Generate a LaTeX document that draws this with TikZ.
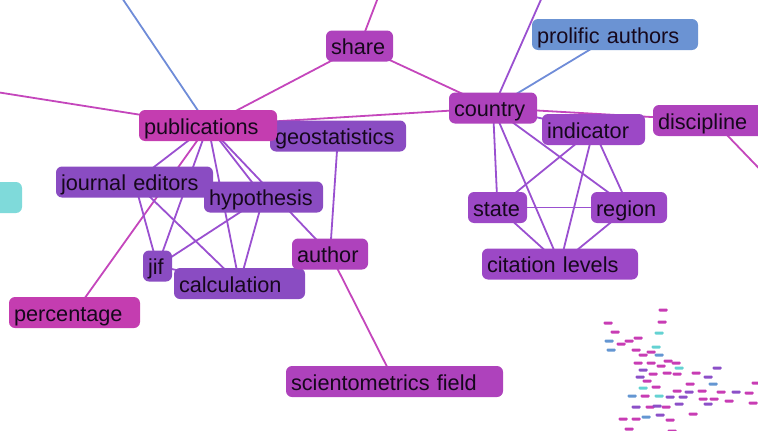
\documentclass[tikz,border=0pt]{standalone}
\usepackage{fontspec}
\setmainfont{Liberation Sans}
\usepackage{xcolor}
\usepackage{tikz}
\usetikzlibrary{positioning,backgrounds}

\definecolor{magA}{HTML}{C43DB0}
\definecolor{magB}{HTML}{AE42BC}
\definecolor{purA}{HTML}{9C48C6}
\definecolor{purB}{HTML}{8A4CC2}
\definecolor{blueN}{HTML}{6B93D3}
\definecolor{cyanN}{HTML}{7FDADA}
\definecolor{ink}{HTML}{16081C}
\definecolor{lineM}{HTML}{C446BC}
\definecolor{lineP}{HTML}{9A50D0}
\definecolor{lineB}{HTML}{6F8CD8}
\definecolor{mapM}{HTML}{C83CB4}
\definecolor{mapP}{HTML}{8C50C8}
\definecolor{mapB}{HTML}{6496D2}
\definecolor{mapC}{HTML}{64D2D2}

\begin{document}
\begin{tikzpicture}[x=1pt,y=-1pt,node distance=100pt,on grid,
    kw/.style={rounded corners=6pt,inner xsep=5pt,inner ysep=0pt,minimum height=31pt,
        text height=19pt,text depth=2pt,
        align=left,text=ink,font=\fontsize{21.7}{26}\selectfont},
    clmaga/.style={kw,fill=magA},
    clmagb/.style={kw,fill=magB},
    clpura/.style={kw,fill=purA},
    clpurb/.style={kw,fill=purB},
    clblue/.style={kw,fill=blueN},
    clcyan/.style={kw,fill=cyanN},
    mline/.style={draw=lineM,line width=1.8pt},
    pline/.style={draw=lineP,line width=1.8pt},
    bline/.style={draw=lineB,line width=1.8pt}]
    \useasboundingbox (0,0) rectangle (758,431);
    \clip (0,0) rectangle (758,431);

    % left cluster
    \node[clcyan,text width=72pt] (cut) at (-19,197.5) {};
    \node[clpurb,text width=126pt] (geo) at (338,136) {geostatistics};
    \node[clmaga,text width=128pt] (pub) at (208,125.5) {publications};
    \node[clpurb,text width=147pt] (je) at (134.5,182) {journal editors};
    \node[clpurb,text width=109pt] (hyp) at (263.5,197) {hypothesis};
    \node[clpurb,text width=19pt] (jif) at (157.5,266) {jif};
    \node[clpurb,text width=121pt] (calc) at (239.5,283.5) {calculation};
    \node[clmagb,text width=66pt] (auth) at (330,254) {author};
    \node[clmaga,text width=121pt] (perc) at (74.5,312.5) {percentage};
    \node[clmagb,text width=207pt] (scf) at (394.5,381.5) {scientometrics field};
    \node[clmagb,text width=57pt] (share) at (359.5,46) {share};

    % right cluster
    \node[clblue,text width=156pt] (prol) at (615,34.5) {prolific authors};
    \node[clmagb,text width=78pt] (ctry) at (493,108) {country};
    \node[clpura,text width=93pt] (ind) at (593.5,129.5) {indicator};
    \node[clmagb,text width=110pt] (disc) at (713,120.5) {discipline};
    \node[clpura,text width=49pt] (state) at (497.5,207.5) {state};
    \node[clpura,text width=66pt] (reg) [right=131.5pt of state] {region};
    \node[clpura,text width=146pt] (cit) at (560,264) {citation levels};

    % ends of links that leave the picture
    \coordinate (offL) at (-10,91);
    \coordinate (offTL) at (120,-5);
    \coordinate (offT) at (379,-5);
    \coordinate (offT2) at (543,-5);
    \coordinate (offR) at (775,185);

    \begin{scope}[on background layer]
        \clip (0,0) rectangle (758,431);
        \path[mline]
        (pub.center) edge (offL.center)
        (pub.center) edge (share.center)
        (pub.center) edge (ctry.center)
        (pub.center) edge (perc.center)
        (share.center) edge (offT.center)
        (share.center) edge (ctry.center)
        (ctry.center) edge (disc.center)
        (disc.center) edge (offR.center)
        (auth.center) edge (scf.center);
        \path[pline]
        (pub.center) edge (je.center)
        (pub.center) edge (jif.center)
        (pub.center) edge (calc.center)
        (pub.center) edge (hyp.center)
        (pub.center) edge (auth.center)
        (je.center) edge (jif.center)
        (je.center) edge (calc.center)
        (jif.center) edge (hyp.center)
        (jif.center) edge (calc.center)
        (hyp.center) edge (calc.center)
        (geo.center) edge (auth.center)
        (ctry.center) edge (offT2.center)
        (ctry.center) edge (ind.center)
        (ctry.center) edge (state.center)
        (ctry.center) edge (reg.center)
        (ctry.center) edge (cit.center)
        (ind.center) edge (state.center)
        (ind.center) edge (reg.center)
        (ind.center) edge (cit.center)
        (state.center) edge (reg.center)
        (state.center) edge (cit.center)
        (reg.center) edge (cit.center);
        \path[bline]
        (pub.center) edge (offTL.center)
        (ctry.center) edge (prol.center);
    \end{scope}

    % overview map
    \foreach \mx/\my/\mc in {663/310/mapM,662/322/mapM,608/323/mapM,615/332/mapM,
        659/333/mapC,638/338/mapM,629/341/mapM,609/341/mapB,621/344/mapM,656/347/mapC,
        611/350/mapB,636/350/mapM,651/352/mapM,643/355/mapM,659/355/mapB,668/361/mapM,
        638/363/mapM,651/363/mapM,676/363/mapM,661/366/mapM,679/368/mapC,643/370/mapP,
        667/373/mapM,653/374/mapM,677/374/mapM,696/373/mapM,717/368/mapP,640/377/mapP,
        690/384/mapM,713/384/mapB,708/377/mapP,647/381/mapM,643/388/mapC,656/387/mapM,
        677/391/mapM,689/392/mapP,702/391/mapM,721/392/mapM,736/392/mapP,749/393/mapM,
        632/396/mapB,645/396/mapM,659/396/mapC,670/397/mapP,683/397/mapP,703/399/mapM,
        714/399/mapM,729/401/mapM,679/404/mapP,708/404/mapP,636/407/mapP,650/407/mapM,
        666/407/mapM,657/406/mapP,693/414/mapM,660/415/mapP,646/417/mapB,670/420/mapM,
        623/419/mapM,636/419/mapM,629/429/mapM,672/431/mapM,753/403/mapM,756/383/mapM}
        \fill[\mc,rounded corners=1pt] (\mx-4.5,\my-1.5) rectangle ++(9,3);
\end{tikzpicture}
\end{document}
